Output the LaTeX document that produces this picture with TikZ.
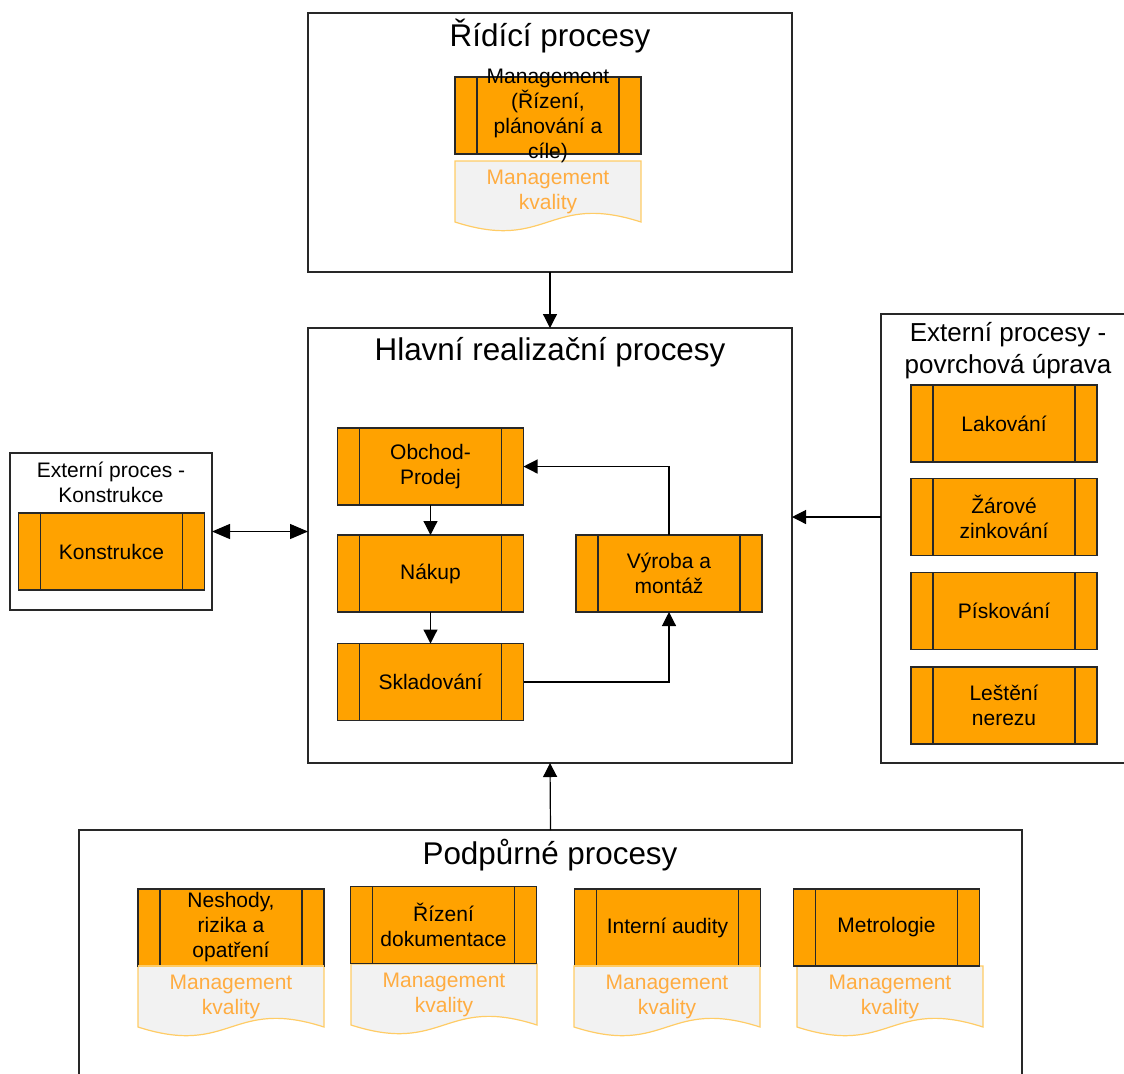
\documentclass[tikz,border=0pt]{standalone}
\usepackage{fontspec}
\setmainfont{Liberation Sans}
\usetikzlibrary{arrows.meta,backgrounds}
\definecolor{procorange}{RGB}{255,162,0}
\definecolor{kvaltext}{RGB}{255,172,64}
\definecolor{kvalline}{RGB}{255,204,102}
\definecolor{kvalfill}{RGB}{242,242,242}
\definecolor{linegray}{RGB}{40,40,40}
\tikzset{
  cont/.style={draw=linegray, line width=0.6pt, inner sep=0pt, outer sep=0pt},
  title/.style={font=\fontsize{15.7pt}{19pt}\selectfont, align=center},
  subtitle/.style={font=\fontsize{10.5pt}{12.5pt}\selectfont, align=center},
  proc/.style={draw=linegray, line width=0.6pt, fill=procorange,
    minimum width=93pt, minimum height=38.5pt, inner sep=0pt, outer sep=0pt,
    align=center, font=\fontsize{10.5pt}{12.5pt}\selectfont,
    path picture={
      \draw[linegray, line width=0.6pt] ([xshift=11pt]path picture bounding box.north west) -- ([xshift=11pt]path picture bounding box.south west);
      \draw[linegray, line width=0.6pt] ([xshift=-11pt]path picture bounding box.north east) -- ([xshift=-11pt]path picture bounding box.south east);}},
  doc/.style={minimum width=93pt, minimum height=30.5pt, inner sep=0pt, outer sep=0pt,
    align=center, text=kvaltext, font=\fontsize{10.5pt}{12.5pt}\selectfont},
  docline/.style={draw=kvalline, fill=kvalfill, line width=0.6pt},
  arr/.style={-{Triangle[length=7pt,width=7pt]}, line width=0.6pt},
  dblarr/.style={{Triangle[length=9pt,width=7.5pt]}-{Triangle[length=9pt,width=7.5pt]}, line width=0.6pt},
}
\begin{document}
\begin{tikzpicture}[x=0.5pt,y=-0.5pt]
  \clip (0,0) rectangle (1124,1073);

  % containers
  \node[cont, minimum width=242pt, minimum height=129.5pt] (ridici) at (550,142.5) {};
  \node[cont, minimum width=242pt, minimum height=217.5pt] (hlavni) at (550,545.5) {};
  \node[cont, minimum width=101pt, minimum height=78.5pt] (extkon) at (111,531.5) {};
  \node[cont, minimum width=130pt, minimum height=224.5pt] (extpov) at (1011,538.5) {};
  \node[cont, minimum width=471.5pt, minimum height=130pt] (podp) at (550.5,960) {};

  \node[title] (ridicititle) at (550,36) {Řídící procesy};
  \node[title] (hlavnititle) at (550,352) {Hlavní realizační procesy};
  \node[title] (podptitle) at (550,855) {Podpůrné procesy};
  \node[subtitle] (extkontitle) at (111,482) {Externí proces -\\Konstrukce};
  \node[font=\fontsize{13pt}{16pt}\selectfont, align=center] (extpovtitle) at (1008,351) {Externí procesy -\\povrchová úprava};

  % management kvality
  \foreach \n/\x/\y in {dtop/548/191.5, d1/231/996.5, d2/444/994.5, d3/667/996.5, d4/890/996.5}{
    \node[doc] (\n) at (\x,\y) {Management\\kvality};
    \begin{scope}[on background layer]
      \draw[docline] (\n.north west) -- (\n.north east) -- (\n.south east)
        .. controls +(-46.5pt,15pt) and +(46.5pt,-15pt) .. (\n.south west) -- cycle;
    \end{scope}
  }

  \node[proc] (mgmt) at (548,115.5) {};
  \node[font=\fontsize{10.5pt}{12.5pt}\selectfont, align=center, inner sep=0pt] (mgmttxt) at (mgmt) {Management\\(Řízení,\\plánování a\\cíle)};

  % hlavni procesy
  \node[proc] (obchod) at (430.5,466.5) {Obchod-\\Prodej};
  \node[proc] (nakup) at (430.5,573.5) {Nákup};
  \node[proc] (sklad) at (430.5,682) {Skladování};
  \node[proc] (vyroba) at (669,573.5) {Výroba a\\montáž};

  \node[proc] (konstr) at (111.5,551.5) {Konstrukce};

  \node[proc] (lak) at (1004,423.5) {Lakování};
  \node[proc] (zar) at (1004,517) {Žárové\\zinkování};
  \node[proc] (pisk) at (1004,611) {Pískování};
  \node[proc] (lest) at (1004,705.5) {Leštění\\nerezu};

  \node[proc] (neshody) at (231,927.5) {Neshody,\\rizika a\\opatření};
  \node[proc] (rizeni) at (443.5,925) {Řízení\\dokumentace};
  \node[proc] (interni) at (667.5,927.5) {Interní audity};
  \node[proc] (metro) at (886.5,927.5) {Metrologie};

  % docs lying on the boxes
  \foreach \n in {d1,d3}
    \draw[kvalline, line width=0.8pt] (\n.north west) -- (\n.north east);

  % arrows
  \draw[arr] (ridici.south) -- (hlavni.north);
  \draw[arr] (podp.north) -- (hlavni.south);
  \draw[arr] (extpov.west |- zar.west) -- (hlavni.east |- zar.west);
  \draw[dblarr] (extkon.east) -- (extkon.east -| hlavni.west);
  \draw[arr] (obchod.south) -- (nakup.north);
  \draw[arr] (nakup.south) -- (sklad.north);
  \draw[arr] (sklad.east) -| (vyroba.south);
  \draw[arr] (vyroba.north) |- (obchod.east);
\end{tikzpicture}
\end{document}
